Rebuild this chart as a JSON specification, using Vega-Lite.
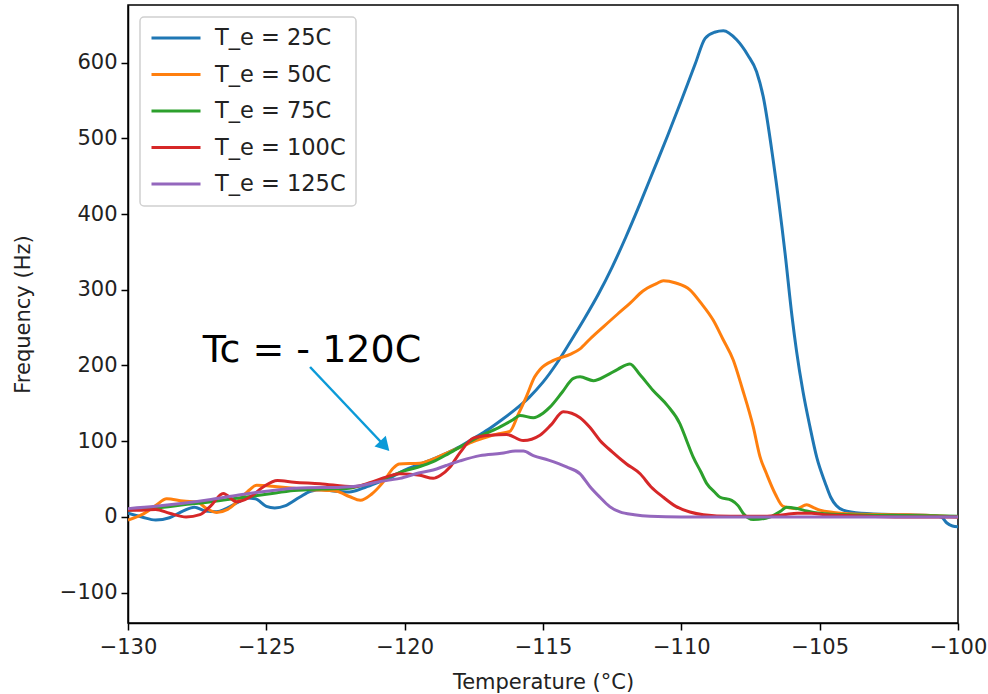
{
  "$schema": "https://vega.github.io/schema/vega-lite/v6.json",
  "width": 830,
  "height": 618,
  "autosize": {"type": "none"},
  "padding": {"left": 128, "top": 5, "right": 30, "bottom": 71},
  "background": "white",
  "config": {
    "font": "DejaVu Sans",
    "view": {"stroke": "#000", "strokeWidth": 1.5},
    "axis": {
      "grid": false,
      "domainColor": "#000",
      "domainWidth": 1.5,
      "tickColor": "#000",
      "tickWidth": 1.5,
      "tickSize": 7,
      "labelFontSize": 21,
      "labelColor": "#222",
      "labelFont": "DejaVu Sans",
      "labelFlush": false,
      "labelOverlap": false,
      "titleFont": "DejaVu Sans",
      "titleFontSize": 21,
      "titleFontWeight": "normal",
      "titleColor": "#222"
    },
    "legend": {
      "orient": "none",
      "legendX": 12,
      "legendY": 12,
      "symbolType": "stroke",
      "symbolSize": 2401,
      "symbolStrokeWidth": 3,
      "clipHeight": 22,
      "rowPadding": 13.5,
      "labelFontSize": 22.5,
      "labelFont": "DejaVu Sans",
      "labelColor": "#222",
      "labelOffset": 13,
      "padding": 10,
      "strokeColor": "#d0d0d0",
      "strokeWidth": 1.5,
      "cornerRadius": 4,
      "fillColor": "white"
    }
  },
  "datasets": {
    "curves": [
      {"series": "T_e = 25C", "temp": -130, "freq": 5},
      {"series": "T_e = 25C", "temp": -129.5, "freq": 0},
      {"series": "T_e = 25C", "temp": -129, "freq": -4},
      {"series": "T_e = 25C", "temp": -128.5, "freq": -1},
      {"series": "T_e = 25C", "temp": -128, "freq": 8},
      {"series": "T_e = 25C", "temp": -127.6, "freq": 13},
      {"series": "T_e = 25C", "temp": -127.2, "freq": 8},
      {"series": "T_e = 25C", "temp": -126.8, "freq": 7},
      {"series": "T_e = 25C", "temp": -126.4, "freq": 12},
      {"series": "T_e = 25C", "temp": -126, "freq": 20},
      {"series": "T_e = 25C", "temp": -125.7, "freq": 25},
      {"series": "T_e = 25C", "temp": -125.4, "freq": 24},
      {"series": "T_e = 25C", "temp": -125, "freq": 14},
      {"series": "T_e = 25C", "temp": -124.7, "freq": 12},
      {"series": "T_e = 25C", "temp": -124.3, "freq": 15},
      {"series": "T_e = 25C", "temp": -123.8, "freq": 26},
      {"series": "T_e = 25C", "temp": -123.4, "freq": 34},
      {"series": "T_e = 25C", "temp": -123, "freq": 36},
      {"series": "T_e = 25C", "temp": -122.5, "freq": 34},
      {"series": "T_e = 25C", "temp": -122, "freq": 33},
      {"series": "T_e = 25C", "temp": -121.5, "freq": 38},
      {"series": "T_e = 25C", "temp": -121, "freq": 45},
      {"series": "T_e = 25C", "temp": -120.5, "freq": 52},
      {"series": "T_e = 25C", "temp": -120, "freq": 62},
      {"series": "T_e = 25C", "temp": -119.5, "freq": 69},
      {"series": "T_e = 25C", "temp": -119, "freq": 76},
      {"series": "T_e = 25C", "temp": -118.5, "freq": 84},
      {"series": "T_e = 25C", "temp": -118, "freq": 93},
      {"series": "T_e = 25C", "temp": -117.5, "freq": 104},
      {"series": "T_e = 25C", "temp": -117, "freq": 115},
      {"series": "T_e = 25C", "temp": -116.5, "freq": 128},
      {"series": "T_e = 25C", "temp": -116, "freq": 142},
      {"series": "T_e = 25C", "temp": -115.5, "freq": 158},
      {"series": "T_e = 25C", "temp": -115, "freq": 178},
      {"series": "T_e = 25C", "temp": -114.5, "freq": 203},
      {"series": "T_e = 25C", "temp": -114, "freq": 232},
      {"series": "T_e = 25C", "temp": -113.5, "freq": 262},
      {"series": "T_e = 25C", "temp": -113, "freq": 294},
      {"series": "T_e = 25C", "temp": -112.5, "freq": 330},
      {"series": "T_e = 25C", "temp": -112, "freq": 370},
      {"series": "T_e = 25C", "temp": -111.5, "freq": 413},
      {"series": "T_e = 25C", "temp": -111, "freq": 458},
      {"series": "T_e = 25C", "temp": -110.5, "freq": 503},
      {"series": "T_e = 25C", "temp": -110, "freq": 550},
      {"series": "T_e = 25C", "temp": -109.5, "freq": 598},
      {"series": "T_e = 25C", "temp": -109.14, "freq": 632},
      {"series": "T_e = 25C", "temp": -108.8, "freq": 640},
      {"series": "T_e = 25C", "temp": -108.48, "freq": 642},
      {"series": "T_e = 25C", "temp": -108, "freq": 630},
      {"series": "T_e = 25C", "temp": -107.6, "freq": 610},
      {"series": "T_e = 25C", "temp": -107.28, "freq": 588},
      {"series": "T_e = 25C", "temp": -107.04, "freq": 555},
      {"series": "T_e = 25C", "temp": -106.68, "freq": 471},
      {"series": "T_e = 25C", "temp": -106.25, "freq": 348},
      {"series": "T_e = 25C", "temp": -106, "freq": 265},
      {"series": "T_e = 25C", "temp": -105.84, "freq": 220},
      {"series": "T_e = 25C", "temp": -105.6, "freq": 165},
      {"series": "T_e = 25C", "temp": -105.35, "freq": 119},
      {"series": "T_e = 25C", "temp": -105.1, "freq": 78},
      {"series": "T_e = 25C", "temp": -104.8, "freq": 45},
      {"series": "T_e = 25C", "temp": -104.6, "freq": 26},
      {"series": "T_e = 25C", "temp": -104.4, "freq": 15},
      {"series": "T_e = 25C", "temp": -104.15, "freq": 9},
      {"series": "T_e = 25C", "temp": -103.5, "freq": 5},
      {"series": "T_e = 25C", "temp": -102, "freq": 3},
      {"series": "T_e = 25C", "temp": -101, "freq": 2},
      {"series": "T_e = 25C", "temp": -100.6, "freq": 0},
      {"series": "T_e = 25C", "temp": -100.4, "freq": -8},
      {"series": "T_e = 25C", "temp": -100.2, "freq": -12},
      {"series": "T_e = 25C", "temp": -100, "freq": -13},

      {"series": "T_e = 50C", "temp": -130, "freq": -4},
      {"series": "T_e = 50C", "temp": -129.5, "freq": 3},
      {"series": "T_e = 50C", "temp": -129, "freq": 15},
      {"series": "T_e = 50C", "temp": -128.6, "freq": 24},
      {"series": "T_e = 50C", "temp": -128, "freq": 21},
      {"series": "T_e = 50C", "temp": -127.5, "freq": 20},
      {"series": "T_e = 50C", "temp": -127.2, "freq": 12},
      {"series": "T_e = 50C", "temp": -126.8, "freq": 6},
      {"series": "T_e = 50C", "temp": -126.4, "freq": 10},
      {"series": "T_e = 50C", "temp": -126, "freq": 22},
      {"series": "T_e = 50C", "temp": -125.6, "freq": 36},
      {"series": "T_e = 50C", "temp": -125.35, "freq": 42},
      {"series": "T_e = 50C", "temp": -124.6, "freq": 40},
      {"series": "T_e = 50C", "temp": -124, "freq": 38},
      {"series": "T_e = 50C", "temp": -123.4, "freq": 36},
      {"series": "T_e = 50C", "temp": -122.8, "freq": 35},
      {"series": "T_e = 50C", "temp": -122.46, "freq": 34},
      {"series": "T_e = 50C", "temp": -122, "freq": 27},
      {"series": "T_e = 50C", "temp": -121.6, "freq": 22},
      {"series": "T_e = 50C", "temp": -121.2, "freq": 30},
      {"series": "T_e = 50C", "temp": -120.8, "freq": 45},
      {"series": "T_e = 50C", "temp": -120.4, "freq": 65},
      {"series": "T_e = 50C", "temp": -120.2, "freq": 70},
      {"series": "T_e = 50C", "temp": -119.45, "freq": 71},
      {"series": "T_e = 50C", "temp": -119, "freq": 76},
      {"series": "T_e = 50C", "temp": -118.5, "freq": 84},
      {"series": "T_e = 50C", "temp": -118, "freq": 92},
      {"series": "T_e = 50C", "temp": -117.5, "freq": 100},
      {"series": "T_e = 50C", "temp": -117, "freq": 106},
      {"series": "T_e = 50C", "temp": -116.6, "freq": 110},
      {"series": "T_e = 50C", "temp": -116.2, "freq": 113},
      {"series": "T_e = 50C", "temp": -115.9, "freq": 135},
      {"series": "T_e = 50C", "temp": -115.6, "freq": 159},
      {"series": "T_e = 50C", "temp": -115.3, "freq": 185},
      {"series": "T_e = 50C", "temp": -115.1, "freq": 195},
      {"series": "T_e = 50C", "temp": -114.6, "freq": 207},
      {"series": "T_e = 50C", "temp": -114, "freq": 215},
      {"series": "T_e = 50C", "temp": -113.66, "freq": 222},
      {"series": "T_e = 50C", "temp": -113.3, "freq": 235},
      {"series": "T_e = 50C", "temp": -112.82, "freq": 251},
      {"series": "T_e = 50C", "temp": -112.3, "freq": 268},
      {"series": "T_e = 50C", "temp": -111.86, "freq": 282},
      {"series": "T_e = 50C", "temp": -111.4, "freq": 298},
      {"series": "T_e = 50C", "temp": -110.9, "freq": 308},
      {"series": "T_e = 50C", "temp": -110.65, "freq": 312},
      {"series": "T_e = 50C", "temp": -110.2, "freq": 309},
      {"series": "T_e = 50C", "temp": -109.69, "freq": 300},
      {"series": "T_e = 50C", "temp": -109.3, "freq": 283},
      {"series": "T_e = 50C", "temp": -108.85, "freq": 260},
      {"series": "T_e = 50C", "temp": -108.5, "freq": 235},
      {"series": "T_e = 50C", "temp": -108.12, "freq": 207},
      {"series": "T_e = 50C", "temp": -107.8, "freq": 170},
      {"series": "T_e = 50C", "temp": -107.4, "freq": 119},
      {"series": "T_e = 50C", "temp": -107.16, "freq": 80},
      {"series": "T_e = 50C", "temp": -106.92, "freq": 57},
      {"series": "T_e = 50C", "temp": -106.6, "freq": 30},
      {"series": "T_e = 50C", "temp": -106.32, "freq": 14},
      {"series": "T_e = 50C", "temp": -105.84, "freq": 11},
      {"series": "T_e = 50C", "temp": -105.47, "freq": 16},
      {"series": "T_e = 50C", "temp": -105.2, "freq": 12},
      {"series": "T_e = 50C", "temp": -104.99, "freq": 9},
      {"series": "T_e = 50C", "temp": -104.5, "freq": 6},
      {"series": "T_e = 50C", "temp": -103.8, "freq": 4},
      {"series": "T_e = 50C", "temp": -102, "freq": 3},
      {"series": "T_e = 50C", "temp": -101, "freq": 2},
      {"series": "T_e = 50C", "temp": -100, "freq": 0},

      {"series": "T_e = 75C", "temp": -130, "freq": 9},
      {"series": "T_e = 75C", "temp": -129, "freq": 12},
      {"series": "T_e = 75C", "temp": -128, "freq": 16},
      {"series": "T_e = 75C", "temp": -127, "freq": 20},
      {"series": "T_e = 75C", "temp": -126, "freq": 25},
      {"series": "T_e = 75C", "temp": -125, "freq": 30},
      {"series": "T_e = 75C", "temp": -124, "freq": 35},
      {"series": "T_e = 75C", "temp": -123, "freq": 37},
      {"series": "T_e = 75C", "temp": -122, "freq": 38},
      {"series": "T_e = 75C", "temp": -121.5, "freq": 42},
      {"series": "T_e = 75C", "temp": -121, "freq": 47},
      {"series": "T_e = 75C", "temp": -120.5, "freq": 54},
      {"series": "T_e = 75C", "temp": -120.17, "freq": 59},
      {"series": "T_e = 75C", "temp": -119.5, "freq": 66},
      {"series": "T_e = 75C", "temp": -118.97, "freq": 73},
      {"series": "T_e = 75C", "temp": -118.4, "freq": 84},
      {"series": "T_e = 75C", "temp": -117.77, "freq": 97},
      {"series": "T_e = 75C", "temp": -117.2, "freq": 108},
      {"series": "T_e = 75C", "temp": -116.55, "freq": 119},
      {"series": "T_e = 75C", "temp": -116.1, "freq": 128},
      {"series": "T_e = 75C", "temp": -115.83, "freq": 134},
      {"series": "T_e = 75C", "temp": -115.35, "freq": 131},
      {"series": "T_e = 75C", "temp": -115, "freq": 137},
      {"series": "T_e = 75C", "temp": -114.75, "freq": 145},
      {"series": "T_e = 75C", "temp": -114.3, "freq": 165},
      {"series": "T_e = 75C", "temp": -113.9, "freq": 183},
      {"series": "T_e = 75C", "temp": -113.66, "freq": 185},
      {"series": "T_e = 75C", "temp": -113.18, "freq": 180},
      {"series": "T_e = 75C", "temp": -112.7, "freq": 187},
      {"series": "T_e = 75C", "temp": -112.3, "freq": 195},
      {"series": "T_e = 75C", "temp": -111.86, "freq": 202},
      {"series": "T_e = 75C", "temp": -111.5, "freq": 188},
      {"series": "T_e = 75C", "temp": -111.02, "freq": 167},
      {"series": "T_e = 75C", "temp": -110.5, "freq": 147},
      {"series": "T_e = 75C", "temp": -110.05, "freq": 123},
      {"series": "T_e = 75C", "temp": -109.8, "freq": 100},
      {"series": "T_e = 75C", "temp": -109.57, "freq": 79},
      {"series": "T_e = 75C", "temp": -109.3, "freq": 60},
      {"series": "T_e = 75C", "temp": -109.08, "freq": 44},
      {"series": "T_e = 75C", "temp": -108.8, "freq": 33},
      {"series": "T_e = 75C", "temp": -108.6, "freq": 26},
      {"series": "T_e = 75C", "temp": -108.18, "freq": 22},
      {"series": "T_e = 75C", "temp": -107.95, "freq": 15},
      {"series": "T_e = 75C", "temp": -107.76, "freq": 4.5},
      {"series": "T_e = 75C", "temp": -107.4, "freq": -3.5},
      {"series": "T_e = 75C", "temp": -106.8, "freq": 0},
      {"series": "T_e = 75C", "temp": -106.4, "freq": 8},
      {"series": "T_e = 75C", "temp": -106.2, "freq": 13},
      {"series": "T_e = 75C", "temp": -105.8, "freq": 11},
      {"series": "T_e = 75C", "temp": -105.47, "freq": 8},
      {"series": "T_e = 75C", "temp": -105, "freq": 5},
      {"series": "T_e = 75C", "temp": -104, "freq": 3},
      {"series": "T_e = 75C", "temp": -102, "freq": 2},
      {"series": "T_e = 75C", "temp": -100, "freq": 1},

      {"series": "T_e = 100C", "temp": -130, "freq": 9},
      {"series": "T_e = 100C", "temp": -129.5, "freq": 9},
      {"series": "T_e = 100C", "temp": -129, "freq": 10},
      {"series": "T_e = 100C", "temp": -128.5, "freq": 5},
      {"series": "T_e = 100C", "temp": -127.9, "freq": 0},
      {"series": "T_e = 100C", "temp": -127.4, "freq": 3},
      {"series": "T_e = 100C", "temp": -127, "freq": 15},
      {"series": "T_e = 100C", "temp": -126.56, "freq": 31},
      {"series": "T_e = 100C", "temp": -126.07, "freq": 20},
      {"series": "T_e = 100C", "temp": -125.6, "freq": 26},
      {"series": "T_e = 100C", "temp": -125.1, "freq": 40},
      {"series": "T_e = 100C", "temp": -124.6, "freq": 48},
      {"series": "T_e = 100C", "temp": -124, "freq": 46},
      {"series": "T_e = 100C", "temp": -123.06, "freq": 44},
      {"series": "T_e = 100C", "temp": -121.85, "freq": 40},
      {"series": "T_e = 100C", "temp": -121.2, "freq": 46},
      {"series": "T_e = 100C", "temp": -120.65, "freq": 53},
      {"series": "T_e = 100C", "temp": -120.17, "freq": 57},
      {"series": "T_e = 100C", "temp": -119.45, "freq": 55},
      {"series": "T_e = 100C", "temp": -118.97, "freq": 51},
      {"series": "T_e = 100C", "temp": -118.7, "freq": 55},
      {"series": "T_e = 100C", "temp": -118.36, "freq": 66},
      {"series": "T_e = 100C", "temp": -118, "freq": 85},
      {"series": "T_e = 100C", "temp": -117.52, "freq": 104},
      {"series": "T_e = 100C", "temp": -116.9, "freq": 108},
      {"series": "T_e = 100C", "temp": -116.32, "freq": 109},
      {"series": "T_e = 100C", "temp": -115.71, "freq": 101},
      {"series": "T_e = 100C", "temp": -115.11, "freq": 108},
      {"series": "T_e = 100C", "temp": -114.7, "freq": 122},
      {"series": "T_e = 100C", "temp": -114.27, "freq": 139},
      {"series": "T_e = 100C", "temp": -113.66, "freq": 131},
      {"series": "T_e = 100C", "temp": -113.3, "freq": 118},
      {"series": "T_e = 100C", "temp": -112.94, "freq": 101},
      {"series": "T_e = 100C", "temp": -112.5, "freq": 86},
      {"series": "T_e = 100C", "temp": -111.98, "freq": 70},
      {"series": "T_e = 100C", "temp": -111.49, "freq": 57},
      {"series": "T_e = 100C", "temp": -111.1, "freq": 40},
      {"series": "T_e = 100C", "temp": -110.65, "freq": 26},
      {"series": "T_e = 100C", "temp": -110.2, "freq": 14},
      {"series": "T_e = 100C", "temp": -109.69, "freq": 6.6},
      {"series": "T_e = 100C", "temp": -109.2, "freq": 3},
      {"series": "T_e = 100C", "temp": -108.24, "freq": 1},
      {"series": "T_e = 100C", "temp": -107, "freq": 1},
      {"series": "T_e = 100C", "temp": -106.3, "freq": 3},
      {"series": "T_e = 100C", "temp": -105.8, "freq": 5},
      {"series": "T_e = 100C", "temp": -105.3, "freq": 5},
      {"series": "T_e = 100C", "temp": -104.8, "freq": 3},
      {"series": "T_e = 100C", "temp": -104, "freq": 2},
      {"series": "T_e = 100C", "temp": -102, "freq": 0},
      {"series": "T_e = 100C", "temp": -100, "freq": 0},

      {"series": "T_e = 125C", "temp": -130, "freq": 11},
      {"series": "T_e = 125C", "temp": -129, "freq": 14},
      {"series": "T_e = 125C", "temp": -128, "freq": 18},
      {"series": "T_e = 125C", "temp": -127, "freq": 23},
      {"series": "T_e = 125C", "temp": -126, "freq": 29},
      {"series": "T_e = 125C", "temp": -125, "freq": 34},
      {"series": "T_e = 125C", "temp": -124, "freq": 38},
      {"series": "T_e = 125C", "temp": -123, "freq": 39},
      {"series": "T_e = 125C", "temp": -122.5, "freq": 39},
      {"series": "T_e = 125C", "temp": -122, "freq": 40},
      {"series": "T_e = 125C", "temp": -121.5, "freq": 42},
      {"series": "T_e = 125C", "temp": -121, "freq": 46},
      {"series": "T_e = 125C", "temp": -120.5, "freq": 49},
      {"series": "T_e = 125C", "temp": -120.17, "freq": 51},
      {"series": "T_e = 125C", "temp": -119.5, "freq": 58},
      {"series": "T_e = 125C", "temp": -118.97, "freq": 62},
      {"series": "T_e = 125C", "temp": -118.5, "freq": 68},
      {"series": "T_e = 125C", "temp": -118, "freq": 74},
      {"series": "T_e = 125C", "temp": -117.28, "freq": 81},
      {"series": "T_e = 125C", "temp": -116.5, "freq": 84},
      {"series": "T_e = 125C", "temp": -116, "freq": 87},
      {"series": "T_e = 125C", "temp": -115.71, "freq": 87},
      {"series": "T_e = 125C", "temp": -115.35, "freq": 81},
      {"series": "T_e = 125C", "temp": -114.8, "freq": 75},
      {"series": "T_e = 125C", "temp": -114.15, "freq": 66},
      {"series": "T_e = 125C", "temp": -113.66, "freq": 57},
      {"series": "T_e = 125C", "temp": -113.3, "freq": 40},
      {"series": "T_e = 125C", "temp": -112.94, "freq": 26},
      {"series": "T_e = 125C", "temp": -112.6, "freq": 14},
      {"series": "T_e = 125C", "temp": -112.22, "freq": 6.6},
      {"series": "T_e = 125C", "temp": -111.7, "freq": 3},
      {"series": "T_e = 125C", "temp": -111.13, "freq": 1},
      {"series": "T_e = 125C", "temp": -110, "freq": 0},
      {"series": "T_e = 125C", "temp": -105, "freq": 0},
      {"series": "T_e = 125C", "temp": -100, "freq": 0}
    ],
    "arrow": [
      {"temp": -123.42, "freq": 198, "temp2": -120.72, "freq2": 93.7}
    ],
    "arrowhead": [
      {"temp": -120.72, "freq": 93.7}
    ],
    "note": [
      {"temp": -127.3, "freq": 205, "label": "Tc = - 120C"}
    ]
  },
  "layer": [
    {
      "data": {"name": "curves"},
      "mark": {"type": "line", "strokeWidth": 3, "interpolate": "monotone", "clip": true},
      "encoding": {
        "x": {
          "field": "temp",
          "type": "quantitative",
          "scale": {"domain": [-130, -100], "nice": false, "zero": false},
          "axis": {
            "title": "Temperature (°C)",
            "values": [-130, -125, -120, -115, -110, -105, -100],
            "labelExpr": "replace(datum.label, '-', '−')",
            "labelPadding": 6,
            "titleY": 65,
            "titleBaseline": "alphabetic"
          }
        },
        "y": {
          "field": "freq",
          "type": "quantitative",
          "scale": {"domain": [-140, 676], "nice": false, "zero": false},
          "axis": {
            "title": "Frequency (Hz)",
            "values": [-100, 0, 100, 200, 300, 400, 500, 600],
            "labelExpr": "replace(datum.label, '-', '−')",
            "labelPadding": 4,
            "titleX": -99,
            "titleBaseline": "alphabetic"
          }
        },
        "color": {
          "field": "series",
          "type": "nominal",
          "scale": {
            "domain": ["T_e = 25C", "T_e = 50C", "T_e = 75C", "T_e = 100C", "T_e = 125C"],
            "range": ["#1f77b4", "#ff7f0e", "#2ca02c", "#d62728", "#9467bd"]
          },
          "legend": {"title": null}
        }
      }
    },
    {
      "data": {"name": "arrow"},
      "mark": {"type": "rule", "color": "#0b9ad8", "strokeWidth": 2.5},
      "encoding": {
        "x": {"field": "temp", "type": "quantitative"},
        "y": {"field": "freq", "type": "quantitative"},
        "x2": {"field": "temp2"},
        "y2": {"field": "freq2"}
      }
    },
    {
      "data": {"name": "arrowhead"},
      "mark": {"type": "point", "shape": "triangle-up", "filled": true, "color": "#0b9ad8", "opacity": 1, "size": 240, "angle": 136.6},
      "encoding": {
        "x": {"field": "temp", "type": "quantitative"},
        "y": {"field": "freq", "type": "quantitative"}
      }
    },
    {
      "data": {"name": "note"},
      "mark": {"type": "text", "align": "left", "baseline": "alphabetic", "fontSize": 38, "font": "DejaVu Sans", "color": "#000"},
      "encoding": {
        "x": {"field": "temp", "type": "quantitative"},
        "y": {"field": "freq", "type": "quantitative"},
        "text": {"field": "label"}
      }
    }
  ]
}
